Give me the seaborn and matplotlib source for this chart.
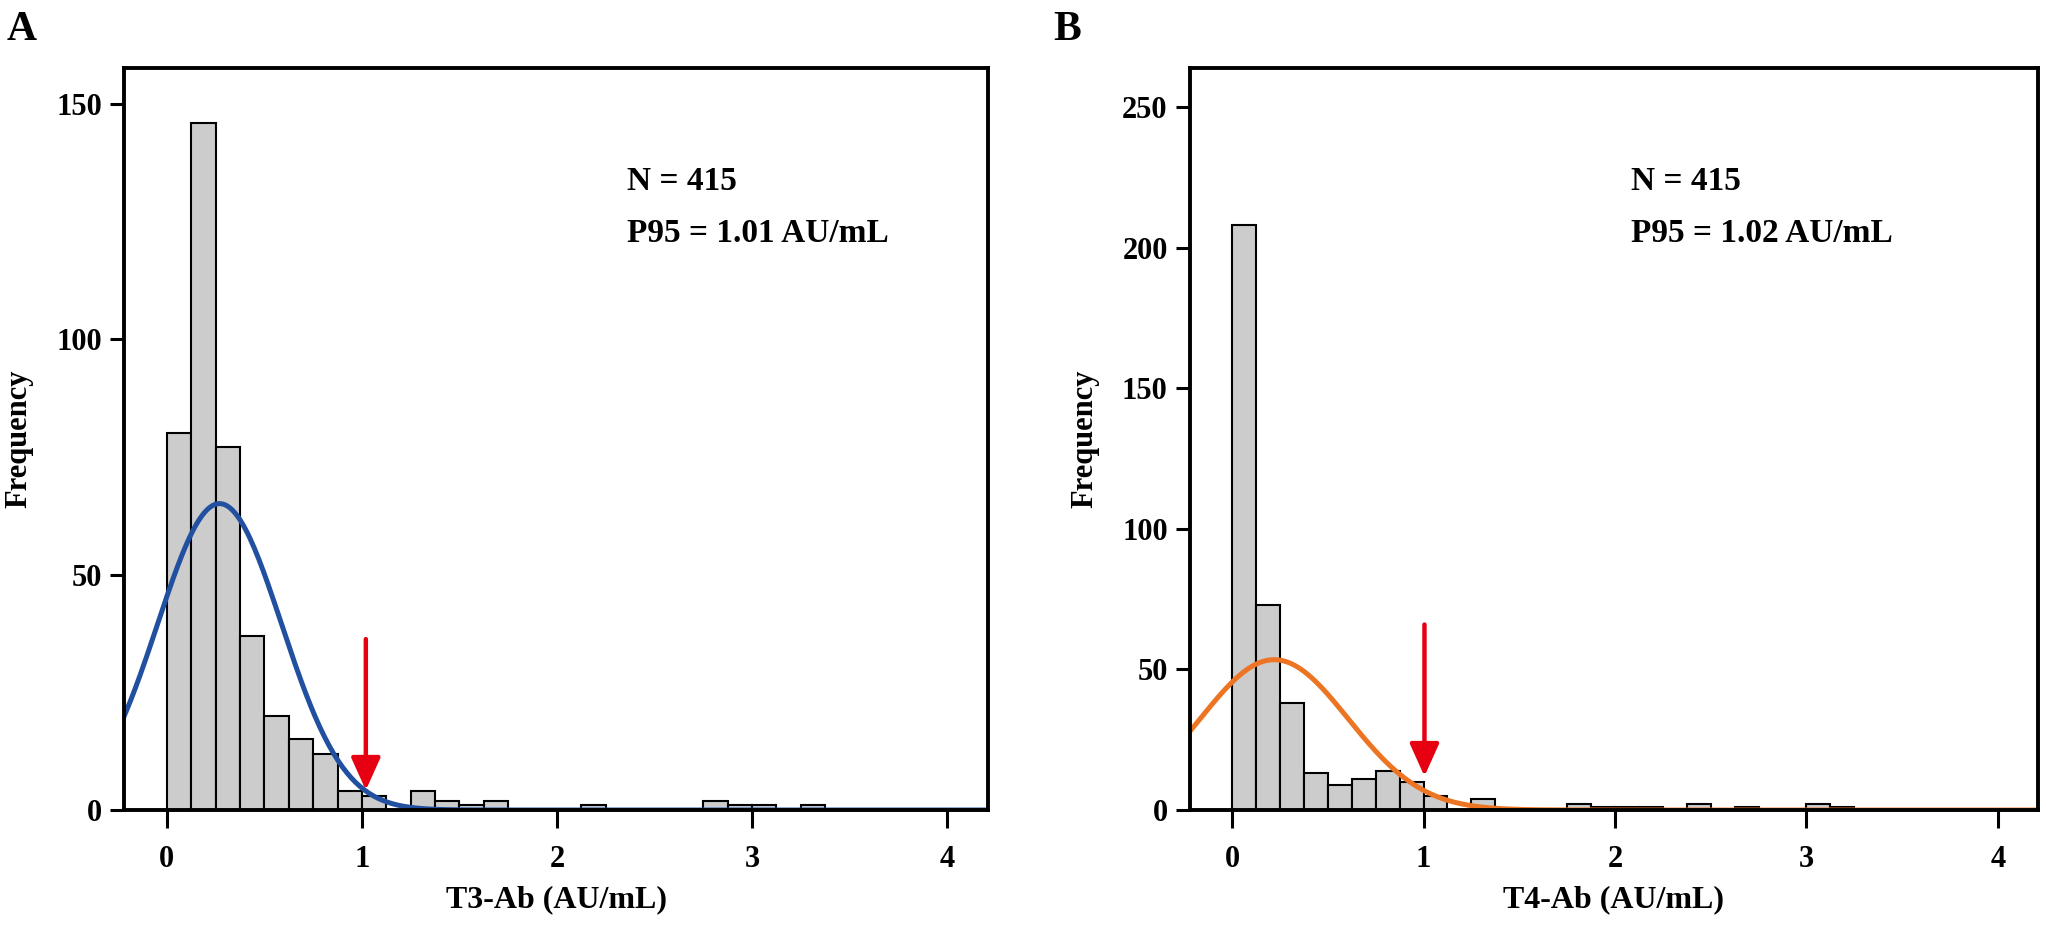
import numpy as np
import pandas as pd
import matplotlib
matplotlib.use("Agg")
import matplotlib.pyplot as plt
import seaborn as sns

# histogram bins (AU/mL), width 0.125 starting at 0
bin_width = 0.125

t3_counts = [80, 146, 77, 37, 20, 15, 12, 4, 3, 0, 4, 2, 1, 2, 0, 0, 0, 1,
             0, 0, 0, 0, 2, 1, 1, 0, 1]
t4_counts = [208, 73, 38, 13, 9, 11, 14, 10, 5, 0, 4, 0, 0, 0, 2, 1, 1, 1,
             0, 2, 0, 1, 0, 0, 2, 1]

# fitted normal curves (mean, sd)
n_total = 415
t3_fit = (0.27, 0.318)
t4_fit = (0.22, 0.387)

t3_p95 = 1.01
t4_p95 = 1.02
t3_arrow = (1.02, 36.3, 4.2)    # arrow x, start, tip (frequency)
t4_arrow = (1.005, 66.0, 12.0)

panels = [
    dict(letter="A", counts=t3_counts, fit=t3_fit, p95=t3_p95, arrow=t3_arrow,
         color="#2150a0", xlabel="T3-Ab (AU/mL)", ylim=157.6,
         yticks=[0, 50, 100, 150], text_x=0.582),
    dict(letter="B", counts=t4_counts, fit=t4_fit, p95=t4_p95, arrow=t4_arrow,
         color="#ec7423", xlabel="T4-Ab (AU/mL)", ylim=264,
         yticks=[0, 50, 100, 150, 200, 250], text_x=0.52),
]

sns.set_style("ticks")
plt.rcParams["font.family"] = ["Liberation Serif", "DejaVu Serif"]
plt.rcParams["font.weight"] = "bold"
plt.rcParams["axes.labelweight"] = "bold"
for key in ["text.color", "axes.labelcolor", "xtick.color", "ytick.color"]:
    plt.rcParams[key] = "black"

fig = plt.figure(figsize=(20.46, 9.25), dpi=100)
rects = [[0.0606, 0.1243, 0.4223, 0.8022], [0.5816, 0.1243, 0.4145, 0.8022]]
letter_x = [0.0034, 0.515]

for p, rect, lx in zip(panels, rects, letter_x):
    ax = fig.add_axes(rect)
    counts = np.array(p["counts"])
    nbins = len(counts)
    df = pd.DataFrame({"x": np.arange(nbins) * bin_width + bin_width / 2, "w": counts})
    sns.histplot(data=df, x="x", weights="w", binwidth=bin_width,
                 binrange=(0, nbins * bin_width), color="#cccccc",
                 edgecolor="black", linewidth=1.5, alpha=1, ax=ax, zorder=2)

    mu, sd = p["fit"]
    xs = np.linspace(-0.3, 4.3, 400)
    ys = n_total * bin_width * np.exp(-(xs - mu) ** 2 / (2 * sd ** 2)) / (sd * np.sqrt(2 * np.pi))
    sns.lineplot(x=xs, y=ys, color=p["color"], linewidth=3.6, ax=ax, zorder=3)

    ax_x, top, tip = p["arrow"]
    ax.annotate("", xy=(ax_x, tip), xytext=(ax_x, top),
                arrowprops=dict(arrowstyle="-|>,head_length=1.0,head_width=0.45",
                                color="#e60012", lw=3.2, mutation_scale=20,
                                shrinkA=0, shrinkB=0), zorder=4)

    ax.text(p["text_x"], 0.836, "N = 415", transform=ax.transAxes,
            fontsize=24, fontweight="bold", va="baseline")
    ax.text(p["text_x"], 0.765, f"P95 = {p['p95']:.2f} AU/mL", transform=ax.transAxes,
            fontsize=24, fontweight="bold", va="baseline")

    ax.set_xlim(-0.22, 4.21)
    ax.set_ylim(0, p["ylim"])
    ax.set_xticks([0, 1, 2, 3, 4])
    ax.set_yticks(p["yticks"])
    ax.set_xlabel(p["xlabel"], fontsize=23, fontweight="bold", labelpad=8)
    ax.set_ylabel("Frequency", fontsize=22, fontweight="bold", labelpad=16)
    ax.tick_params(axis="x", length=13, width=2.2, pad=12, labelsize=22, colors="black")
    ax.tick_params(axis="y", length=10, width=2.2, pad=6, labelsize=22, colors="black")
    for lab in ax.get_xticklabels() + ax.get_yticklabels():
        lab.set_fontweight("bold")
    for s in ax.spines.values():
        s.set_visible(True)
        s.set_linewidth(2.8)
        s.set_color("black")
        s.set_zorder(5)

    fig.text(lx, 0.957, p["letter"], fontsize=30, fontweight="bold", va="baseline")

fig.savefig("out.png", dpi=100)
